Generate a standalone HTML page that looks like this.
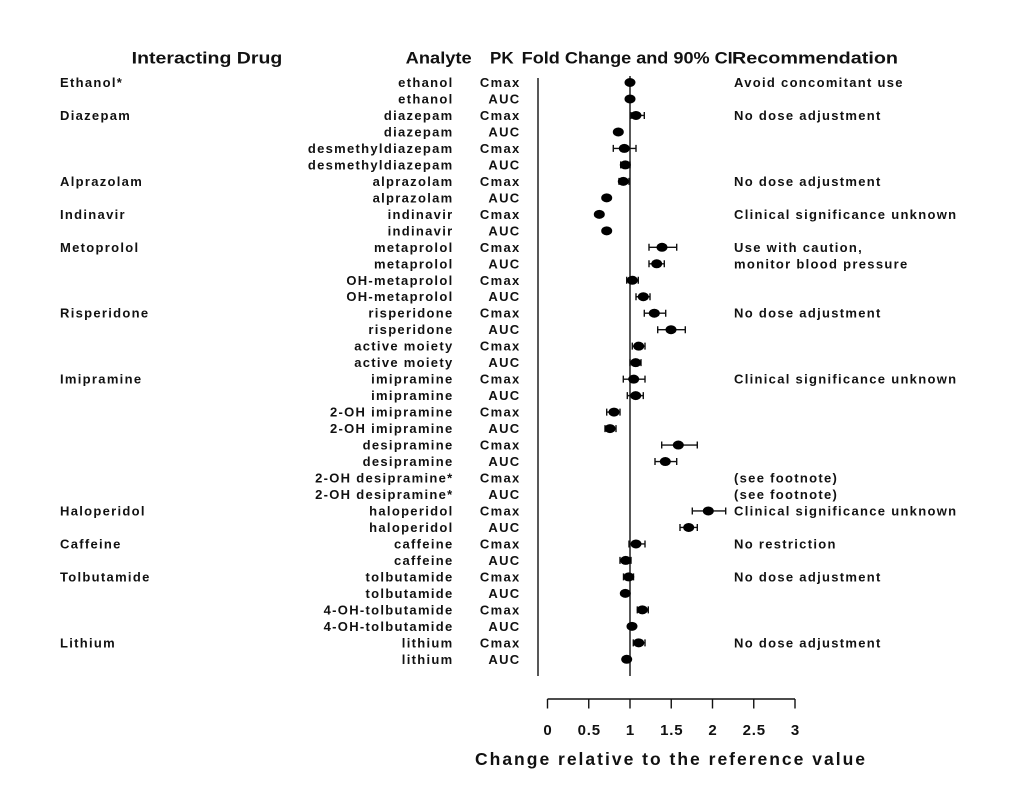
<!DOCTYPE html>
<html><head><meta charset="utf-8"><style>
html,body{margin:0;padding:0;background:#fff;}
svg{display:block;}
.t{font-family:"Liberation Sans",Arial,sans-serif;font-weight:bold;font-size:13px;letter-spacing:1.3px;fill:#111;}
.h{font-family:"Liberation Sans",Arial,sans-serif;font-weight:bold;font-size:17px;fill:#111;}
.k{font-family:"Liberation Sans",Arial,sans-serif;font-weight:bold;font-size:15px;fill:#111;letter-spacing:0.8px;}
.a{font-family:"Liberation Sans",Arial,sans-serif;font-weight:bold;font-size:17.5px;fill:#111;}
.e{stroke:#111;stroke-width:1.4;fill:none;}
</style></head><body>
<svg width="1023" height="785" viewBox="0 0 1023 785" xmlns="http://www.w3.org/2000/svg">
<rect width="1023" height="785" fill="#fff"/>
<!-- headers -->
<text class="h" x="131.7" y="63.5" textLength="150.6" lengthAdjust="spacingAndGlyphs">Interacting Drug</text>
<text class="h" x="405.7" y="63.5" textLength="66" lengthAdjust="spacingAndGlyphs">Analyte</text>
<text class="h" x="490" y="63.5">PK</text>
<text class="h" x="521.7" y="63.5" textLength="211" lengthAdjust="spacingAndGlyphs">Fold Change and 90% CI</text>
<text class="h" x="732" y="63.5" textLength="166" lengthAdjust="spacingAndGlyphs">Recommendation</text>

<!-- vertical lines -->
<line x1="538" y1="78" x2="538" y2="676" stroke="#111" stroke-width="1.4"/>
<line x1="630" y1="76" x2="630" y2="676" stroke="#111" stroke-width="1.4"/>

<!-- rows -->
<g id="rows">
<g transform="translate(0,82.5)"><text class="t" x="60" y="4.5">Ethanol*</text><text class="t" x="453.5" y="4.5" text-anchor="end">ethanol</text><text class="t" x="520.5" y="4.5" text-anchor="end">Cmax</text><text class="t" x="734" y="4.5">Avoid concomitant use</text>
<ellipse cx="630" cy="0" rx="5.5" ry="4.5" fill="#000"/></g>
<g transform="translate(0,98.98)"><text class="t" x="453.5" y="4.5" text-anchor="end">ethanol</text><text class="t" x="520.5" y="4.5" text-anchor="end">AUC</text>
<ellipse cx="630" cy="0" rx="5.5" ry="4.5" fill="#000"/></g>
<g transform="translate(0,115.46)"><text class="t" x="60" y="4.5">Diazepam</text><text class="t" x="453.5" y="4.5" text-anchor="end">diazepam</text><text class="t" x="520.5" y="4.5" text-anchor="end">Cmax</text><text class="t" x="734" y="4.5">No dose adjustment</text>
<path class="e" d="M631 0H644.3M631 -3.5V3.5M644.3 -3.5V3.5"/><ellipse cx="636" cy="0" rx="5.5" ry="4.5" fill="#000"/></g>
<g transform="translate(0,131.94)"><text class="t" x="453.5" y="4.5" text-anchor="end">diazepam</text><text class="t" x="520.5" y="4.5" text-anchor="end">AUC</text>
<ellipse cx="618.3" cy="0" rx="5.5" ry="4.5" fill="#000"/></g>
<g transform="translate(0,148.42)"><text class="t" x="453.5" y="4.5" text-anchor="end">desmethyldiazepam</text><text class="t" x="520.5" y="4.5" text-anchor="end">Cmax</text>
<path class="e" d="M613.3 0H636M613.3 -3.5V3.5M636 -3.5V3.5"/><ellipse cx="624.3" cy="0" rx="5.5" ry="4.5" fill="#000"/></g>
<g transform="translate(0,164.9)"><text class="t" x="453.5" y="4.5" text-anchor="end">desmethyldiazepam</text><text class="t" x="520.5" y="4.5" text-anchor="end">AUC</text>
<path class="e" d="M620.7 0H630M620.7 -3.5V3.5M630 -3.5V3.5"/><ellipse cx="625.3" cy="0" rx="5.5" ry="4.5" fill="#000"/></g>
<g transform="translate(0,181.38)"><text class="t" x="60" y="4.5">Alprazolam</text><text class="t" x="453.5" y="4.5" text-anchor="end">alprazolam</text><text class="t" x="520.5" y="4.5" text-anchor="end">Cmax</text><text class="t" x="734" y="4.5">No dose adjustment</text>
<path class="e" d="M619 0H629M619 -3.5V3.5M629 -3.5V3.5"/><ellipse cx="623.3" cy="0" rx="5.5" ry="4.5" fill="#000"/></g>
<g transform="translate(0,197.86)"><text class="t" x="453.5" y="4.5" text-anchor="end">alprazolam</text><text class="t" x="520.5" y="4.5" text-anchor="end">AUC</text>
<ellipse cx="606.7" cy="0" rx="5.5" ry="4.5" fill="#000"/></g>
<g transform="translate(0,214.34)"><text class="t" x="60" y="4.5">Indinavir</text><text class="t" x="453.5" y="4.5" text-anchor="end">indinavir</text><text class="t" x="520.5" y="4.5" text-anchor="end">Cmax</text><text class="t" x="734" y="4.5">Clinical significance unknown</text>
<ellipse cx="599.3" cy="0" rx="5.5" ry="4.5" fill="#000"/></g>
<g transform="translate(0,230.82)"><text class="t" x="453.5" y="4.5" text-anchor="end">indinavir</text><text class="t" x="520.5" y="4.5" text-anchor="end">AUC</text>
<ellipse cx="606.7" cy="0" rx="5.5" ry="4.5" fill="#000"/></g>
<g transform="translate(0,247.3)"><text class="t" x="60" y="4.5">Metoprolol</text><text class="t" x="453.5" y="4.5" text-anchor="end">metaprolol</text><text class="t" x="520.5" y="4.5" text-anchor="end">Cmax</text><text class="t" x="734" y="4.5">Use with caution,</text>
<path class="e" d="M649 0H676.7M649 -3.5V3.5M676.7 -3.5V3.5"/><ellipse cx="662" cy="0" rx="5.5" ry="4.5" fill="#000"/></g>
<g transform="translate(0,263.78)"><text class="t" x="453.5" y="4.5" text-anchor="end">metaprolol</text><text class="t" x="520.5" y="4.5" text-anchor="end">AUC</text><text class="t" x="734" y="4.5">monitor blood pressure</text>
<path class="e" d="M649 0H664.3M649 -3.5V3.5M664.3 -3.5V3.5"/><ellipse cx="656.7" cy="0" rx="5.5" ry="4.5" fill="#000"/></g>
<g transform="translate(0,280.26)"><text class="t" x="453.5" y="4.5" text-anchor="end">OH-metaprolol</text><text class="t" x="520.5" y="4.5" text-anchor="end">Cmax</text>
<path class="e" d="M626.7 0H638.3M626.7 -3.5V3.5M638.3 -3.5V3.5"/><ellipse cx="632.3" cy="0" rx="5.5" ry="4.5" fill="#000"/></g>
<g transform="translate(0,296.74)"><text class="t" x="453.5" y="4.5" text-anchor="end">OH-metaprolol</text><text class="t" x="520.5" y="4.5" text-anchor="end">AUC</text>
<path class="e" d="M636 0H650M636 -3.5V3.5M650 -3.5V3.5"/><ellipse cx="643.3" cy="0" rx="5.5" ry="4.5" fill="#000"/></g>
<g transform="translate(0,313.22)"><text class="t" x="60" y="4.5">Risperidone</text><text class="t" x="453.5" y="4.5" text-anchor="end">risperidone</text><text class="t" x="520.5" y="4.5" text-anchor="end">Cmax</text><text class="t" x="734" y="4.5">No dose adjustment</text>
<path class="e" d="M644.3 0H665.7M644.3 -3.5V3.5M665.7 -3.5V3.5"/><ellipse cx="654.3" cy="0" rx="5.5" ry="4.5" fill="#000"/></g>
<g transform="translate(0,329.7)"><text class="t" x="453.5" y="4.5" text-anchor="end">risperidone</text><text class="t" x="520.5" y="4.5" text-anchor="end">AUC</text>
<path class="e" d="M657.7 0H685.3M657.7 -3.5V3.5M685.3 -3.5V3.5"/><ellipse cx="671" cy="0" rx="5.5" ry="4.5" fill="#000"/></g>
<g transform="translate(0,346.18)"><text class="t" x="453.5" y="4.5" text-anchor="end">active moiety</text><text class="t" x="520.5" y="4.5" text-anchor="end">Cmax</text>
<path class="e" d="M632.3 0H645M632.3 -3.5V3.5M645 -3.5V3.5"/><ellipse cx="638.7" cy="0" rx="5.5" ry="4.5" fill="#000"/></g>
<g transform="translate(0,362.66)"><text class="t" x="453.5" y="4.5" text-anchor="end">active moiety</text><text class="t" x="520.5" y="4.5" text-anchor="end">AUC</text>
<path class="e" d="M630 0H641M630 -3.5V3.5M641 -3.5V3.5"/><ellipse cx="635.7" cy="0" rx="5.5" ry="4.5" fill="#000"/></g>
<g transform="translate(0,379.14)"><text class="t" x="60" y="4.5">Imipramine</text><text class="t" x="453.5" y="4.5" text-anchor="end">imipramine</text><text class="t" x="520.5" y="4.5" text-anchor="end">Cmax</text><text class="t" x="734" y="4.5">Clinical significance unknown</text>
<path class="e" d="M623.3 0H645M623.3 -3.5V3.5M645 -3.5V3.5"/><ellipse cx="633.7" cy="0" rx="5.5" ry="4.5" fill="#000"/></g>
<g transform="translate(0,395.62)"><text class="t" x="453.5" y="4.5" text-anchor="end">imipramine</text><text class="t" x="520.5" y="4.5" text-anchor="end">AUC</text>
<path class="e" d="M627.3 0H643.3M627.3 -3.5V3.5M643.3 -3.5V3.5"/><ellipse cx="635.7" cy="0" rx="5.5" ry="4.5" fill="#000"/></g>
<g transform="translate(0,412.1)"><text class="t" x="453.5" y="4.5" text-anchor="end">2-OH imipramine</text><text class="t" x="520.5" y="4.5" text-anchor="end">Cmax</text>
<path class="e" d="M606.7 0H620M606.7 -3.5V3.5M620 -3.5V3.5"/><ellipse cx="614" cy="0" rx="5.5" ry="4.5" fill="#000"/></g>
<g transform="translate(0,428.58)"><text class="t" x="453.5" y="4.5" text-anchor="end">2-OH imipramine</text><text class="t" x="520.5" y="4.5" text-anchor="end">AUC</text>
<path class="e" d="M605 0H616M605 -3.5V3.5M616 -3.5V3.5"/><ellipse cx="610" cy="0" rx="5.5" ry="4.5" fill="#000"/></g>
<g transform="translate(0,445.06)"><text class="t" x="453.5" y="4.5" text-anchor="end">desipramine</text><text class="t" x="520.5" y="4.5" text-anchor="end">Cmax</text>
<path class="e" d="M661.7 0H697.3M661.7 -3.5V3.5M697.3 -3.5V3.5"/><ellipse cx="678.3" cy="0" rx="5.5" ry="4.5" fill="#000"/></g>
<g transform="translate(0,461.54)"><text class="t" x="453.5" y="4.5" text-anchor="end">desipramine</text><text class="t" x="520.5" y="4.5" text-anchor="end">AUC</text>
<path class="e" d="M655 0H676.7M655 -3.5V3.5M676.7 -3.5V3.5"/><ellipse cx="665.3" cy="0" rx="5.5" ry="4.5" fill="#000"/></g>
<g transform="translate(0,478.02)"><text class="t" x="453.5" y="4.5" text-anchor="end">2-OH desipramine*</text><text class="t" x="520.5" y="4.5" text-anchor="end">Cmax</text><text class="t" x="734" y="4.5">(see footnote)</text></g>
<g transform="translate(0,494.5)"><text class="t" x="453.5" y="4.5" text-anchor="end">2-OH desipramine*</text><text class="t" x="520.5" y="4.5" text-anchor="end">AUC</text><text class="t" x="734" y="4.5">(see footnote)</text></g>
<g transform="translate(0,510.98)"><text class="t" x="60" y="4.5">Haloperidol</text><text class="t" x="453.5" y="4.5" text-anchor="end">haloperidol</text><text class="t" x="520.5" y="4.5" text-anchor="end">Cmax</text><text class="t" x="734" y="4.5">Clinical significance unknown</text>
<path class="e" d="M692.3 0H725.7M692.3 -3.5V3.5M725.7 -3.5V3.5"/><ellipse cx="708.3" cy="0" rx="5.5" ry="4.5" fill="#000"/></g>
<g transform="translate(0,527.46)"><text class="t" x="453.5" y="4.5" text-anchor="end">haloperidol</text><text class="t" x="520.5" y="4.5" text-anchor="end">AUC</text>
<path class="e" d="M680 0H697.3M680 -3.5V3.5M697.3 -3.5V3.5"/><ellipse cx="688.7" cy="0" rx="5.5" ry="4.5" fill="#000"/></g>
<g transform="translate(0,543.94)"><text class="t" x="60" y="4.5">Caffeine</text><text class="t" x="453.5" y="4.5" text-anchor="end">caffeine</text><text class="t" x="520.5" y="4.5" text-anchor="end">Cmax</text><text class="t" x="734" y="4.5">No restriction</text>
<path class="e" d="M629 0H645M629 -3.5V3.5M645 -3.5V3.5"/><ellipse cx="636" cy="0" rx="5.5" ry="4.5" fill="#000"/></g>
<g transform="translate(0,560.42)"><text class="t" x="453.5" y="4.5" text-anchor="end">caffeine</text><text class="t" x="520.5" y="4.5" text-anchor="end">AUC</text>
<path class="e" d="M620 0H631M620 -3.5V3.5M631 -3.5V3.5"/><ellipse cx="625.7" cy="0" rx="5.5" ry="4.5" fill="#000"/></g>
<g transform="translate(0,576.9)"><text class="t" x="60" y="4.5">Tolbutamide</text><text class="t" x="453.5" y="4.5" text-anchor="end">tolbutamide</text><text class="t" x="520.5" y="4.5" text-anchor="end">Cmax</text><text class="t" x="734" y="4.5">No dose adjustment</text>
<path class="e" d="M623.5 0H633.5M623.5 -3.5V3.5M633.5 -3.5V3.5"/><ellipse cx="628.7" cy="0" rx="5.5" ry="4.5" fill="#000"/></g>
<g transform="translate(0,593.38)"><text class="t" x="453.5" y="4.5" text-anchor="end">tolbutamide</text><text class="t" x="520.5" y="4.5" text-anchor="end">AUC</text>
<ellipse cx="625.3" cy="0" rx="5.5" ry="4.5" fill="#000"/></g>
<g transform="translate(0,609.86)"><text class="t" x="453.5" y="4.5" text-anchor="end">4-OH-tolbutamide</text><text class="t" x="520.5" y="4.5" text-anchor="end">Cmax</text>
<path class="e" d="M637.3 0H648.3M637.3 -3.5V3.5M648.3 -3.5V3.5"/><ellipse cx="642.3" cy="0" rx="5.5" ry="4.5" fill="#000"/></g>
<g transform="translate(0,626.34)"><text class="t" x="453.5" y="4.5" text-anchor="end">4-OH-tolbutamide</text><text class="t" x="520.5" y="4.5" text-anchor="end">AUC</text>
<ellipse cx="632" cy="0" rx="5.5" ry="4.5" fill="#000"/></g>
<g transform="translate(0,642.82)"><text class="t" x="60" y="4.5">Lithium</text><text class="t" x="453.5" y="4.5" text-anchor="end">lithium</text><text class="t" x="520.5" y="4.5" text-anchor="end">Cmax</text><text class="t" x="734" y="4.5">No dose adjustment</text>
<path class="e" d="M633.3 0H645M633.3 -3.5V3.5M645 -3.5V3.5"/><ellipse cx="638.7" cy="0" rx="5.5" ry="4.5" fill="#000"/></g>
<g transform="translate(0,659.3)"><text class="t" x="453.5" y="4.5" text-anchor="end">lithium</text><text class="t" x="520.5" y="4.5" text-anchor="end">AUC</text>
<ellipse cx="626.7" cy="0" rx="5.5" ry="4.5" fill="#000"/></g>
</g>

<!-- x axis -->
<path d="M547.5 699H795M547.5 699V708.5M588.75 699V708.5M630 699V708.5M671.25 699V708.5M712.5 699V708.5M753.75 699V708.5M795 699V708.5" stroke="#111" stroke-width="1.4" fill="none"/>
<g class="k" text-anchor="middle">
<text x="548" y="735">0</text>
<text x="589.3" y="735">0.5</text>
<text x="630.5" y="735">1</text>
<text x="671.8" y="735">1.5</text>
<text x="713" y="735">2</text>
<text x="754.3" y="735">2.5</text>
<text x="795.5" y="735">3</text>
</g>
<text class="a" x="475" y="765" textLength="390" lengthAdjust="spacing">Change relative to the reference value</text>
</svg>
</body></html>
